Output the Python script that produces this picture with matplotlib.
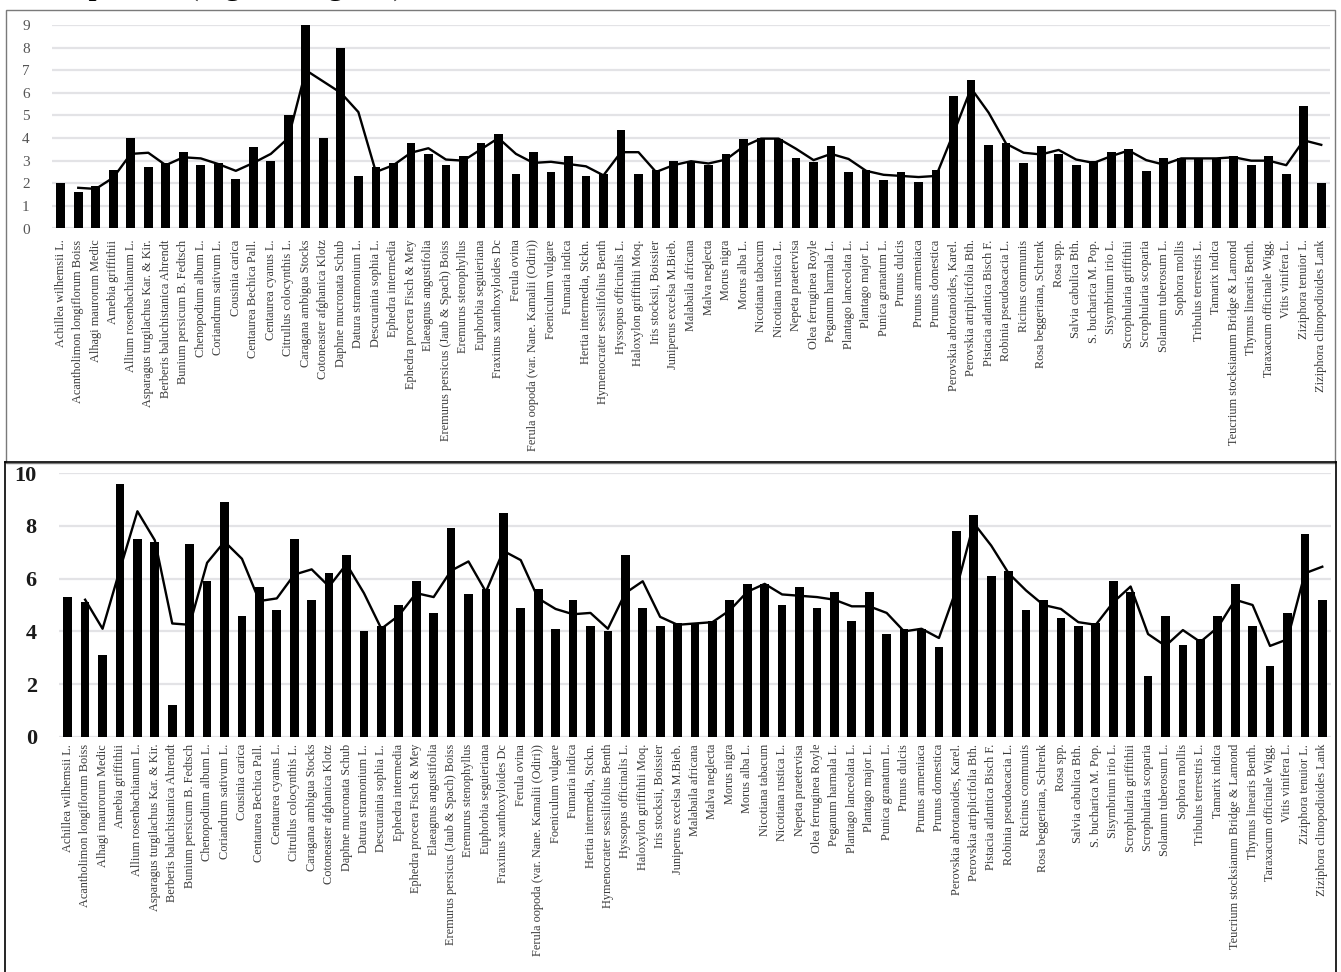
import matplotlib
matplotlib.use("Agg")
import matplotlib.pyplot as plt
import numpy as np
import pandas as pd
from matplotlib.lines import Line2D
from matplotlib.patches import Rectangle

# ── Data ─────────────────────────────────────────────────────────────

species = [
    "Achillea wilhemsii L.", "Acantholimon longiflorum Boiss", "Alhagi maurorum Medic",
    "Amebia griffithii", "Allium rosenbachianum L.", "Asparagus turgilachus Kar. & Kir.",
    "Berberis baluchistanica Ahrendt", "Bunium persicum B. Fedtsch", "Chenopodium album L.",
    "Coriandrum sativum L.", "Cousinia carica", "Centaurea Bechica Pall.",
    "Centaurea cyanus L.", "Citrullus colocynthis L.", "Caragana ambigua Stocks",
    "Cotoneaster afghanica Klotz", "Daphne mucronata Schub", "Datura stramonium L.",
    "Descurainia sophia L.", "Ephedra intermedia", "Ephedra procera Fisch & Mey",
    "Elaeagnus angustifolia", "Eremurus persicus (Jaub & Spach) Boiss", "Eremurus stenophyllus",
    "Euphorbia seguieriana", "Fraxinus xanthoxyloides Dc", "Ferula ovina",
    "Ferula oopoda (var. Nane. Kamalii (Odiri))", "Foeniculum vulgare", "Fumaria indica",
    "Hertia intermedia, Stckn.", "Hymenocrater sessilifolius Benth", "Hyssopus officinalis L.",
    "Haloxylon griffithii Moq.", "Iris stocksii, Boissier", "Juniperus excelsa M.Bieb.",
    "Malabaila africana", "Malva neglecta", "Morus nigra",
    "Morus alba L.", "Nicotiana tabacum", "Nicotiana rustica L.",
    "Nepeta praetervisa", "Olea ferruginea Royle", "Peganum harmala L.",
    "Plantago lanceolata L.", "Plantago major L.", "Punica granatum L.",
    "Prunus dulcis", "Prunus armeniaca", "Prunus domestica",
    "Perovskia abrotanoides, Karel.", "Perovskia atriplicifolia Bth.", "Pistacia atlantica Bisch F.",
    "Robinia pseudoacacia L.", "Ricinus communis", "Rosa beggeriana, Schrenk",
    "Rosa spp.", "Salvia cabulica Bth.", "S. bucharica M. Pop.",
    "Sisymbrium irio L.", "Scrophularia griffithii", "Scrophularia scoparia",
    "Solanum tuberosum L.", "Sophora mollis", "Tribulus terrestris L.",
    "Tamarix indica", "Teucrium stocksianum Bridge & Lamond", "Thymus linearis Benth.",
    "Taraxacum officinale Wigg.", "Vitis vinifera L.", "Ziziphora tenuior L.",
    "Ziziphora clinopodioides Lank",
]

upper_values = [
    2.0, 1.6, 1.9, 2.6, 4.0, 2.7, 2.9, 3.4, 2.8, 2.9,
    2.2, 3.6, 3.0, 5.0, 9.0, 4.0, 8.0, 2.3, 2.7, 2.9,
    3.8, 3.3, 2.8, 3.2, 3.8, 4.2, 2.4, 3.4, 2.5, 3.2,
    2.3, 2.4, 4.35, 2.4, 2.6, 3.0, 2.95, 2.8, 3.3, 3.95,
    4.0, 3.95, 3.1, 2.95, 3.65, 2.5, 2.6, 2.15, 2.5, 2.05,
    2.6, 5.85, 6.55, 3.7, 3.8, 2.9, 3.65, 3.3, 2.8, 3.0,
    3.4, 3.5, 2.55, 3.1, 3.1, 3.1, 3.1, 3.2, 2.8, 3.2,
    2.4, 5.4, 2.0,
]

lower_values = [
    5.3, 5.1, 3.1, 9.6, 7.5, 7.4, 1.2, 7.3, 5.9, 8.9,
    4.6, 5.7, 4.8, 7.5, 5.2, 6.2, 6.9, 4.0, 4.2, 5.0,
    5.9, 4.7, 7.9, 5.4, 5.6, 8.5, 4.9, 5.6, 4.1, 5.2,
    4.2, 4.0, 6.9, 4.9, 4.2, 4.3, 4.3, 4.4, 5.2, 5.8,
    5.8, 5.0, 5.7, 4.9, 5.5, 4.4, 5.5, 3.9, 4.1, 4.1,
    3.4, 7.8, 8.4, 6.1, 6.3, 4.8, 5.2, 4.5, 4.2, 4.3,
    5.9, 5.5, 2.3, 4.6, 3.5, 3.7, 4.6, 5.8, 4.2, 2.7,
    4.7, 7.7, 5.2,
]

upper_ticks = list(range(0, 10))
lower_ticks = [0, 2, 4, 6, 8, 10]

# ── Figure ───────────────────────────────────────────────────────────

W, H = 1341, 972
SERIF = "Liberation Serif"
fig = plt.figure(figsize=(W / 100, H / 100), dpi=100)
fig.patch.set_facecolor("white")


def px_axes(x0, x1, y_top, y_bot):
    """Axes placed by pixel edges (origin at top-left)."""
    return fig.add_axes([x0 / W, 1 - y_bot / H, (x1 - x0) / W, (y_bot - y_top) / H])


def draw_panel(ax, values, ticks, tick_font, label_pad):
    x = np.arange(len(values))
    trend = pd.Series(values).rolling(2).mean()   # 2-point moving average

    ax.bar(x, values, width=0.5, color="black", zorder=2)
    ax.plot(x, trend, color="black", linewidth=1.7, zorder=3)

    ax.set_xlim(-0.5, len(values) - 0.5)
    ax.set_ylim(ticks[0], ticks[-1])
    ax.set_yticks(ticks)
    ax.set_yticklabels([str(t) for t in ticks], **tick_font)
    ax.set_xticks(x)
    ax.set_xticklabels(species, rotation=90, family=SERIF, fontsize=8.8,
                       color="#3a3a3a")
    ax.tick_params(axis="x", length=0, pad=label_pad)
    ax.tick_params(axis="y", length=0, pad=16)
    ax.grid(axis="y", color="#e3e3e6", linewidth=1.6, zorder=0)
    ax.set_axisbelow(True)
    for s in ax.spines.values():
        s.set_visible(False)
    ax.set_facecolor("none")


# Upper panel
ax_up = px_axes(52, 1330, 25, 228.5)
draw_panel(ax_up, upper_values, upper_ticks,
           {"family": SERIF, "fontsize": 11, "color": "#555555"}, 8)

# Lower panel
ax_lo = px_axes(59, 1331, 473, 737)
draw_panel(ax_lo, lower_values, lower_ticks,
           {"family": SERIF, "fontsize": 16, "fontweight": "bold",
            "color": "#1a1a1a"}, 5)

# Panel frames
fig.add_artist(Rectangle((6 / W, 1 - 463 / H), (1335 - 6) / W, (463 - 10) / H,
                         transform=fig.transFigure, fill=False,
                         edgecolor="#7a7a7a", linewidth=1.0))
for xs, ys in [([5, 1336], [462, 462]), ([5, 5], [462, 972]),
               ([1336, 1336], [462, 972])]:
    fig.add_artist(Line2D([v / W for v in xs], [1 - v / H for v in ys],
                          transform=fig.transFigure, color="black", linewidth=1.2))

# Axis caption running off the top edge (only its lower part shows)
fig.text(12 / W, 1 + 6 / H, "Total phenol (mg GAE/g dw)", family=SERIF,
         fontsize=24, va="baseline", ha="left", color="black")

fig.savefig("out.png", dpi=100, facecolor="white")
plt.close(fig)
